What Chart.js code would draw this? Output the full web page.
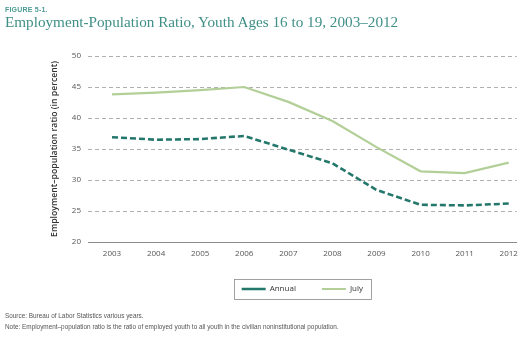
<!DOCTYPE html>
<html>
<head>
<meta charset="utf-8">
<script src="https://cdn.jsdelivr.net/npm/chart.js@4.4.0/dist/chart.umd.min.js"></script>
<style>
  html, body { margin: 0; padding: 0; background: #fff; }
  #wrap { position: relative; width: 525px; height: 337px; overflow: hidden; }
  #chart { position: absolute; left: 0; top: 0; }
  .fig { position: absolute; left: 5px; top: 6px; font: bold 7px "Liberation Sans", Arial, sans-serif; color: #4b9b94; letter-spacing: 0.2px; }
  .title { position: absolute; left: 5px; top: 13px; font: 15.2px "Liberation Serif", "Times New Roman", serif; color: #3f8f87; white-space: nowrap; }
  .note { position: absolute; left: 5px; font: 6.4px "Liberation Sans", Arial, sans-serif; color: #555; white-space: nowrap; }
</style>
</head>
<body>
<div id="wrap">
  <canvas id="chart" width="525" height="337"></canvas>
  <div class="fig">FIGURE 5-1.</div>
  <div class="title">Employment-Population Ratio, Youth Ages 16 to 19, 2003–2012</div>
  <div class="note" style="top:312px">Source: Bureau of Labor Statistics various years.</div>
  <div class="note" style="top:323px">Note: Employment–population ratio is the ratio of employed youth to all youth in the civilian noninstitutional population.</div>
</div>
<script>
const years = [2003, 2004, 2005, 2006, 2007, 2008, 2009, 2010, 2011, 2012];
const annual = [36.9, 36.5, 36.6, 37.1, 34.9, 32.7, 28.4, 26.0, 25.9, 26.2];
const july = [43.8, 44.1, 44.5, 45.0, 42.6, 39.5, 35.3, 31.4, 31.1, 32.8];
const yTicks = [20, 25, 30, 35, 40, 45, 50];

const annualColor = "#23776b";
const julyColor = "#b3cf98";

// moves the legend under the plot and draws the frame round it
const legendFrame = {
  id: "legendFrame",
  afterLayout(chart) {
    const lg = chart.legend;
    const dx = (chart.chartArea.left + chart.chartArea.right) / 2 - (lg.left + lg.right) / 2;
    lg.left += dx;
    lg.right += dx;
  },
  afterDraw(chart) {
    const boxes = chart.legend.legendHitBoxes;
    if (!boxes || !boxes.length) return;
    const first = boxes[0];
    const last = boxes[boxes.length - 1];
    const ctx = chart.ctx;
    const x0 = first.left - 8;
    const x1 = last.left + last.width + 8;
    const y0 = first.top - 6;
    const y1 = first.top + first.height + 6;
    ctx.save();
    ctx.strokeStyle = "#8a8a8a";
    ctx.lineWidth = 0.8;
    ctx.strokeRect(Math.round(x0) + 0.5, Math.round(y0) + 0.5, Math.round(x1 - x0), Math.round(y1 - y0));
    ctx.restore();
  }
};

new Chart(document.getElementById("chart"), {
  type: "line",
  data: {
    datasets: [
      {
        label: "Annual",
        data: years.map((y, i) => ({ x: y, y: annual[i] })),
        borderColor: annualColor,
        backgroundColor: annualColor,
        borderWidth: 2.6,
        borderDash: [6, 3],
        pointRadius: 0,
        tension: 0
      },
      {
        label: "July",
        data: years.map((y, i) => ({ x: y, y: july[i] })),
        borderColor: julyColor,
        backgroundColor: julyColor,
        borderWidth: 2.2,
        pointRadius: 0,
        tension: 0
      }
    ]
  },
  options: {
    responsive: false,
    animation: false,
    layout: { padding: { left: 45, right: 8, top: 56, bottom: 34 } },
    plugins: {
      legend: {
        position: "bottom",
        labels: {
          usePointStyle: true,
          pointStyle: "line",
          pointStyleWidth: 24,
          boxWidth: 24,
          boxHeight: 8,
          padding: 26,
          color: "#333",
          font: { family: "'Open Sans', 'Liberation Sans', sans-serif", size: 8 }
        }
      },
      tooltip: { enabled: false }
    },
    scales: {
      x: {
        type: "linear",
        min: 2002.455,
        max: 2012.18,
        afterFit: (axis) => { axis.height = 17; },
        afterBuildTicks: (axis) => { axis.ticks = years.map(v => ({ value: v })); },
        grid: { display: false, drawTicks: false },
        border: { display: true, color: "#8c8c8c", width: 1 },
        ticks: {
          padding: 7,
          color: "#555",
          font: { family: "'Open Sans', 'Liberation Sans', sans-serif", size: 8 },
          callback: (v) => String(v)
        }
      },
      y: {
        min: 20,
        max: 50,
        afterFit: (axis) => { axis.width = 43; },
        afterBuildTicks: (axis) => { axis.ticks = yTicks.map(v => ({ value: v })); },
        grid: { color: "#9a9a9a", lineWidth: 0.8, drawTicks: false },
        border: { display: false, dash: [4, 3] },
        ticks: {
          padding: 7,
          color: "#555",
          font: { family: "'Open Sans', 'Liberation Sans', sans-serif", size: 8 }
        },
        title: {
          display: true,
          text: "Employment–population ratio (in percent)",
          color: "#333",
          padding: { top: 4, bottom: 0 },
          font: { family: "'Open Sans', 'Liberation Sans', sans-serif", size: 8.7, weight: "600" }
        }
      }
    }
  },
  plugins: [legendFrame]
});
</script>
</body>
</html>
